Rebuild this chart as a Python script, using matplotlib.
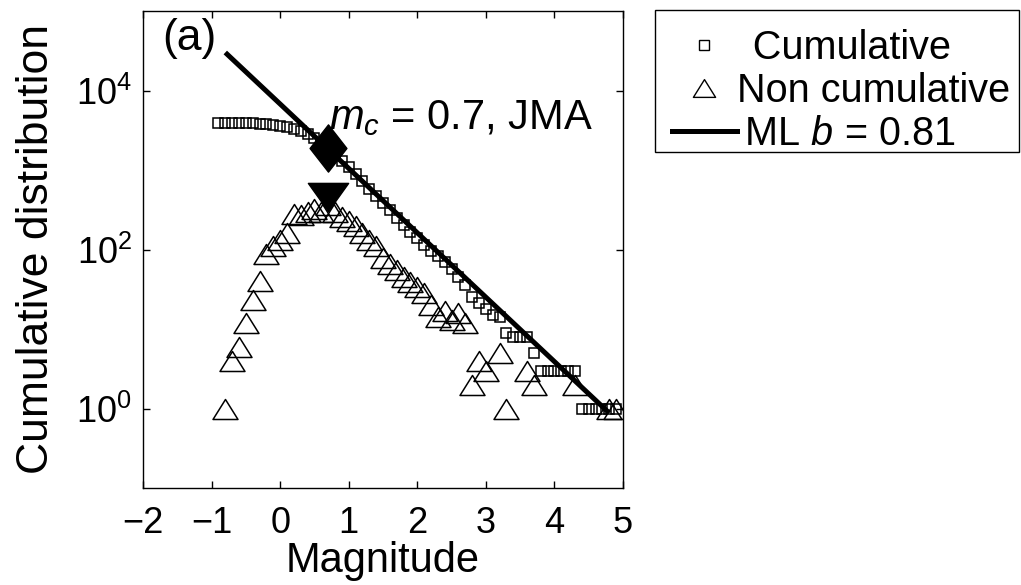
import matplotlib
matplotlib.use("Agg")
import matplotlib.pyplot as plt
from matplotlib.path import Path
from matplotlib.lines import Line2D
from matplotlib.patches import Rectangle

plt.rcParams['font.family'] = ['Liberation Sans', 'DejaVu Sans']
plt.rcParams['mathtext.fontset'] = 'custom'
plt.rcParams['mathtext.rm'] = 'Liberation Sans'
plt.rcParams['mathtext.it'] = 'Liberation Sans:italic'
plt.rcParams['mathtext.bf'] = 'Liberation Sans:bold'

# cumulative number of events N(>=M), JMA catalogue
mag_cum = [-0.9, -0.8, -0.7, -0.6, -0.5, -0.4, -0.3, -0.2, -0.1, 0.0,
           0.1, 0.2, 0.3, 0.4, 0.5, 0.6, 0.7, 0.8, 0.9, 1.0,
           1.1, 1.2, 1.3, 1.4, 1.5, 1.6, 1.7, 1.8, 1.9, 2.0,
           2.1, 2.2, 2.3, 2.4, 2.5, 2.6, 2.7, 2.8, 2.9, 3.0,
           3.1, 3.2, 3.3, 3.4, 3.5, 3.6, 3.7, 3.8, 3.9, 4.0,
           4.1, 4.2, 4.3, 4.4, 4.5, 4.6, 4.7, 4.8, 4.9]
n_cum = [3900, 3900, 3890, 3880, 3870, 3850, 3820, 3780, 3700, 3600,
         3480, 3320, 3050, 2800, 2500, 2200, 1900, 1550, 1300, 1080,
         880, 720, 580, 470, 380, 310, 250, 205, 165, 140,
         115, 95, 82, 70, 57, 45, 36, 25, 21, 18,
         15, 14, 9, 8, 8, 8, 5, 3, 3, 3,
         3, 3, 3, 1, 1, 1, 1, 1, 1]

# non-cumulative number of events per 0.1 magnitude bin
mag_non = [-0.8, -0.7, -0.6, -0.5, -0.4, -0.3, -0.2, -0.1, 0.0, 0.1,
           0.2, 0.3, 0.4, 0.5, 0.6, 0.7, 0.8, 0.9, 1.0, 1.1,
           1.2, 1.3, 1.4, 1.5, 1.6, 1.7, 1.8, 1.9, 2.0, 2.1,
           2.2, 2.3, 2.4, 2.5, 2.6, 2.7, 2.8, 2.9, 3.0, 3.2,
           3.3, 3.6, 3.7, 4.3, 4.8, 4.9]
n_non = [1, 4, 6, 12, 23, 40, 87, 110, 130, 160,
         280, 270, 300, 320, 300, 360, 300, 260, 230, 195,
         160, 130, 110, 78, 65, 55, 45, 39, 34, 28,
         20, 14, 17, 13, 16, 12, 2, 4, 3, 5,
         1, 3, 2, 2, 1, 1]

# magnitude of completeness and maximum-likelihood fit
mc = 0.7
n_at_mc = 1900
n_peak = 460
b_value = 0.81
a_value = 3.83
fit_mag = [-0.8, 4.8]
fit_n = [10 ** (a_value - b_value * m) for m in fit_mag]

# marker shapes
tri_up = Path([(-1, -0.8), (1, -0.8), (0, 0.8), (-1, -0.8)],
              [Path.MOVETO, Path.LINETO, Path.LINETO, Path.CLOSEPOLY])
tri_down = Path([(-1, 0.7), (1, 0.7), (0, -0.7), (-1, 0.7)],
                [Path.MOVETO, Path.LINETO, Path.LINETO, Path.CLOSEPOLY])
diamond = Path([(0, 1), (0.78, 0), (0, -1), (-0.78, 0), (0, 1)],
               [Path.MOVETO, Path.LINETO, Path.LINETO, Path.LINETO, Path.CLOSEPOLY])

fig = plt.figure(figsize=(10.21, 5.85), dpi=100)
ax = fig.add_axes([143 / 1021, 1 - 488 / 585, 480 / 1021, 477 / 585])

ax.plot(mag_cum, n_cum, linestyle='none', marker='s', ms=6.8,
        mfc='none', mec='k', mew=1.1)
ax.plot(mag_non, n_non, linestyle='none', marker=tri_up, ms=18,
        mfc='none', mec='k', mew=1.1)
ax.plot(fit_mag, fit_n, color='k', lw=3.6, solid_capstyle='butt')
ax.plot([mc], [n_at_mc], linestyle='none', marker=diamond, ms=34,
        mfc='k', mec='k')
ax.plot([mc], [n_peak], linestyle='none', marker=tri_down, ms=29,
        mfc='k', mec='k')

ax.set_yscale('log')
ax.set_xlim(-2, 5)
ax.set_ylim(0.1, 1e5)
ax.set_yticks([1, 100, 1e4])
ax.set_xticks([-2, -1, 0, 1, 2, 3, 4, 5])
ax.minorticks_off()
ax.tick_params(direction='in', top=True, right=True, length=5, width=1,
               labelsize=26)
ax.tick_params(axis='x', pad=13)
ax.tick_params(axis='y', pad=8)
for s in ax.spines.values():
    s.set_linewidth(1.0)

ax.set_xlabel('Magnitude', fontsize=30, labelpad=0)
ax.set_ylabel('Cumulative distribution', fontsize=32, labelpad=14)

ax.text(0.04, 0.918, '(a)', transform=ax.transAxes, fontsize=32,
        ha='left', va='baseline')
ax.text(0.71, 3240, r'$m_c$ = 0.7, JMA', fontsize=30,
        ha='left', va='baseline')

# legend entries, with a plain box drawn around them
handles = [
    Line2D([], [], linestyle='none', marker='s', ms=7.5, mfc='none', mec='k', mew=1.0),
    Line2D([], [], linestyle='none', marker=tri_up, ms=16, mfc='none', mec='k', mew=1.0),
    Line2D([], [], color='k', lw=3.6),
]
labels = ['\u2009\u2009Cumulative', 'Non cumulative', '\u2009ML $b$ = 0.81']
leg = fig.legend(handles, labels, loc='upper left',
                 bbox_to_anchor=(672 / 1021, 1 - 29 / 585),
                 fontsize=28.5, frameon=False, borderaxespad=0,
                 handlelength=1.64, handletextpad=0.0, labelspacing=0.13,
                 borderpad=0)
fig.add_artist(Rectangle((655 / 1021, 1 - 152 / 585), 364 / 1021, 142 / 585,
                         transform=fig.transFigure, fill=False,
                         edgecolor='k', linewidth=1.0))

fig.savefig('out.png', dpi=100)
